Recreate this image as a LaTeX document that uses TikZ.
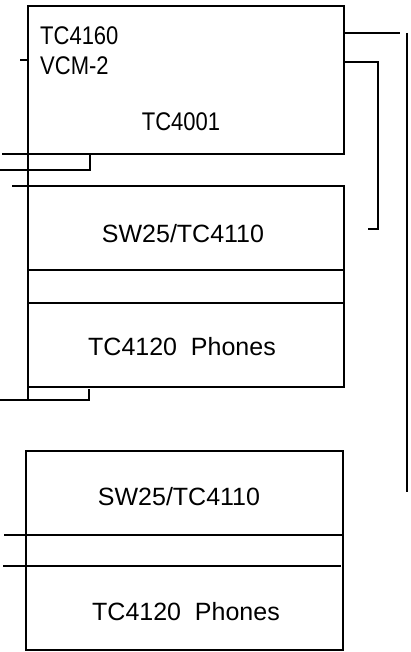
\documentclass[tikz,border=0pt]{standalone}
\usepackage{graphicx}
\usepackage{fontspec}
\setmainfont{Liberation Sans}
\newcommand{\tallish}[1]{\scalebox{1}[1.16]{#1}}
\begin{document}
\begin{tikzpicture}[x=1pt,y=-1pt,
  box/.style={draw,line width=2pt,anchor=north west,inner sep=0pt,outer sep=0pt},
  wire/.style={line width=2.4pt},
  thin/.style={line width=2pt},
  lbl/.style={inner sep=0pt,font=\fontsize{25}{25}\selectfont},
  slbl/.style={inner sep=0pt,font=\fontsize{22}{22}\selectfont}]
\useasboundingbox (0,0) rectangle (411,652);
% top module
\node[box,minimum width=316pt,minimum height=148pt] (cpu) at (28,6) {};
\node[slbl,anchor=base west] (t1) at (40,45) {\tallish{TC4160}};
\node[slbl,anchor=base west] (t2) at (40,75) {\tallish{VCM-2}};
\node[slbl,anchor=base] (t3) at (181,131) {\tallish{TC4001}};
% middle stack
\node[box,minimum width=316pt,minimum height=201pt] (mid) at (28,186) {};
\draw[wire] (28,270) -- (344,270);
\draw[wire] (28,303) -- (344,303);
\node[lbl,anchor=base] (m1) at (183,242) {SW25/TC4110};
\node[lbl,anchor=base] (m2) at (182,355) {TC4120\ \ Phones};
% bottom stack
\node[box,minimum width=317pt,minimum height=199pt] (low) at (26,451) {};
\node[lbl,anchor=base] (b1) at (179,505) {SW25/TC4110};
\node[lbl,anchor=base] (b2) at (186,620) {TC4120\ \ Phones};
% coordinates
\coordinate (a1) at (2,154);
\coordinate (a2) at (90,154);
\coordinate (a3) at (90,170);
\coordinate (a4) at (0,170);
\coordinate (c1) at (12,186);
\coordinate (d1) at (28,154);
\coordinate (d2) at (28,400);
\coordinate (d3) at (0,400);
\coordinate (d4) at (89,400);
\coordinate (d5) at (89,389);
\coordinate (e1) at (4,535);
\coordinate (e2) at (343,535);
\coordinate (e3) at (3,566);
\coordinate (e4) at (341,566);
\coordinate (r1) at (344,33);
\coordinate (r2) at (400,33);
\coordinate (r3) at (407,33);
\coordinate (r4) at (407,492);
\coordinate (s1) at (344,62);
\coordinate (s2) at (378,62);
\coordinate (s3) at (378,229);
\coordinate (s4) at (368,229);
\coordinate (k1) at (20,60);
\coordinate (k2) at (28,60);
% wires
\draw[wire] (a1) -- (cpu.south east);
\draw[wire] (a2) -- (a3) -- (a4);
\draw[wire] (c1) -- (mid.north west);
\draw[thin] (d1) -- (d2);
\draw[wire] (d3) -- (d4) -- (d5);
\draw[wire] (e1) -- (e2);
\draw[wire] (e3) -- (e4);
\draw[wire] (r1) -- (r2);
\draw[line width=2.6pt] (r3) -- (r4);
\draw[thin] (s1) -- (s2) -- (s3) -- (s4);
\draw[thin] (k1) -- (k2);
\end{tikzpicture}
\end{document}
